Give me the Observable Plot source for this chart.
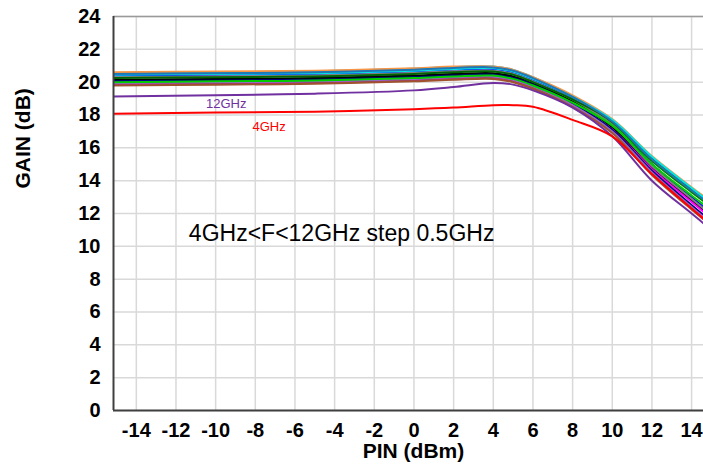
<!DOCTYPE html>
<html>
<head>
<meta charset="utf-8">
<script src="https://cdn.jsdelivr.net/npm/d3@7"></script>
<script src="https://cdn.jsdelivr.net/npm/@observablehq/plot@0.6"></script>
<style>
  html, body { margin: 0; padding: 0; background: #fff; }
</style>
</head>
<body>
<div id="chart"></div>
<script>
// ---- data ----
const pins = [-15.2, -10, -5, 0, 2, 4, 5, 6, 8, 10, 12, 14, 15];
const freqs = ["4GHz","4.5GHz","5GHz","5.5GHz","6GHz","6.5GHz","7GHz","7.5GHz","8GHz","8.5GHz","9GHz","9.5GHz","10GHz","10.5GHz","11GHz","11.5GHz","12GHz"];
const gain4    = [18.08,18.15,18.2,18.35,18.45,18.6,18.6,18.5,17.7,16.7,14.4,12.3,11.3];
const gain4_5  = [20.4,20.45,20.5,20.65,20.75,20.8,20.6,20.15,19.0,17.45,15.0,13.0,12.0];
const gain5    = [20.1,20.15,20.2,20.35,20.45,20.5,20.3,19.9,18.85,17.5,15.2,13.3,12.4];
const gain5_5  = [20.15,20.2,20.25,20.4,20.5,20.55,20.35,19.9,18.8,17.25,14.8,12.8,11.8];
const gain6    = [20.3,20.35,20.4,20.56,20.66,20.7,20.5,20.05,18.95,17.4,14.9,12.9,11.9];
const gain6_5  = [19.85,19.9,19.95,20.1,20.2,20.25,20.05,19.65,18.55,17.1,14.7,12.7,11.7];
const gain7    = [20.55,20.6,20.66,20.82,20.93,20.95,20.75,20.3,19.15,17.7,15.4,13.5,12.6];
const gain7_5  = [20.6,20.65,20.7,20.85,20.95,20.95,20.75,20.3,19.2,17.75,15.5,13.6,12.7];
const gain8    = [20.25,20.3,20.35,20.5,20.6,20.65,20.45,20.0,18.95,17.6,15.35,13.5,12.6];
const gain8_5  = [19.9,19.95,20.0,20.15,20.25,20.3,20.1,19.7,18.6,17.05,14.6,12.5,11.5];
const gain9    = [20.45,20.5,20.55,20.7,20.8,20.85,20.65,20.2,19.1,17.7,15.45,13.55,12.6];
const gain9_5  = [20.05,20.1,20.15,20.3,20.4,20.45,20.25,19.85,18.7,17.1,14.6,12.5,11.5];
const gain10   = [19.95,20.0,20.05,20.2,20.3,20.35,20.15,19.75,18.6,17.0,14.5,12.4,11.4];
const gain10_5 = [20.0,20.05,20.1,20.25,20.35,20.4,20.2,19.8,18.75,17.35,15.0,13.1,12.2];
const gain11   = [19.8,19.85,19.9,20.05,20.15,20.2,20.0,19.6,18.5,16.9,14.35,12.25,11.25];
const gain11_5 = [20.5,20.55,20.6,20.76,20.87,20.9,20.7,20.25,19.1,17.6,15.3,13.4,12.5];
const gain12   = [19.12,19.2,19.3,19.5,19.7,19.95,19.85,19.5,18.45,16.7,14.0,12.0,11.0];
const xTicks = [-14,-12,-10,-8,-6,-4,-2,0,2,4,6,8,10,12,14];
const yTicks = [0,2,4,6,8,10,12,14,16,18,20,22,24];
const noteText = "4GHz<F<12GHz step 0.5GHz";
const xLabel = "PIN (dBm)";
const yLabel = "GAIN (dB)";

// ---- styling ----
const seriesColors = {
  "4GHz":"#ff0000","4.5GHz":"#0000ff","5GHz":"#008000","5.5GHz":"#000000","6GHz":"#808080",
  "6.5GHz":"#ff00ff","7GHz":"#00b0f0","7.5GHz":"#f79646","8GHz":"#006400","8.5GHz":"#993366",
  "9GHz":"#00e5e5","9.5GHz":"#000080","10GHz":"#9966cc","10.5GHz":"#00cc00","11GHz":"#a0522d",
  "11.5GHz":"#1f77b4","12GHz":"#7030a0"
};
const seriesArrays = [gain4,gain4_5,gain5,gain5_5,gain6,gain6_5,gain7,gain7_5,gain8,gain8_5,gain9,gain9_5,gain10,gain10_5,gain11,gain11_5,gain12];
const drawOrder = ["4.5GHz","5GHz","5.5GHz","6GHz","6.5GHz","7GHz","7.5GHz","8GHz","8.5GHz","9GHz","9.5GHz","10GHz","10.5GHz","11GHz","11.5GHz","12GHz","4GHz"];

const rows = [];
for (const f of drawOrder) {
  const arr = seriesArrays[freqs.indexOf(f)];
  pins.forEach((p, i) => rows.push({freq: f, pin: p, gain: arr[i]}));
}

const font = "'Liberation Sans', Arial, Helvetica, sans-serif";
const xMin = -15.15, xMax = 14.6;

const chart = Plot.plot({
  width: 703,
  height: 466,
  marginLeft: 113,
  marginRight: 0,
  marginTop: 16,
  marginBottom: 56,
  style: {fontFamily: font, background: "#fff", color: "#000"},
  x: {domain: [xMin, xMax], label: null},
  y: {domain: [0, 24], label: null},
  color: {domain: freqs, range: freqs.map(f => seriesColors[f])},
  marks: [
    Plot.gridX(xTicks, {stroke: "#d9d9d9", strokeOpacity: 1, strokeWidth: 1.5}),
    Plot.gridY(yTicks, {stroke: "#d9d9d9", strokeOpacity: 1, strokeWidth: 1.5}),
    Plot.ruleY([24], {stroke: "#9a9a9a", strokeWidth: 1.5}),
    Plot.line(rows, {x: "pin", y: "gain", z: "freq", stroke: "freq", strokeWidth: 2, curve: "catmull-rom", clip: true}),
    Plot.ruleX([xMin], {stroke: "#404040", strokeWidth: 2}),
    Plot.ruleY([0], {stroke: "#404040", strokeWidth: 2}),
    Plot.axisX(xTicks, {tickSize: 0, tickPadding: 12, tickFormat: d => String(d), fontSize: 20, fontWeight: "bold", label: null}),
    Plot.axisY(yTicks, {tickSize: 0, tickPadding: 13, tickFormat: d => String(d), fontSize: 20, fontWeight: "bold", label: null}),
    Plot.text([noteText], {x: -11.35, y: 10.76, text: d => d, textAnchor: "start", lineAnchor: "middle", fontSize: 23, fill: "#000"}),
    Plot.text(["12GHz"], {x: -10.49, y: 18.68, text: d => d, textAnchor: "start", lineAnchor: "middle", fontSize: 13, fill: "#7030a0"}),
    Plot.text(["4GHz"], {x: -8.14, y: 17.3, text: d => d, textAnchor: "start", lineAnchor: "middle", fontSize: 13, fill: "#ff0000"}),
    Plot.text([xLabel], {frameAnchor: "bottom", text: d => d, dx: 5, dy: 41, lineAnchor: "middle", fontSize: 21, fontWeight: "bold", fill: "#000"}),
    Plot.text([yLabel], {frameAnchor: "left", text: d => d, dx: -90, dy: -25, rotate: -90, lineAnchor: "middle", fontSize: 21, fontWeight: "bold", fill: "#000"})
  ]
});
document.getElementById("chart").appendChild(chart);
</script>
</body>
</html>
